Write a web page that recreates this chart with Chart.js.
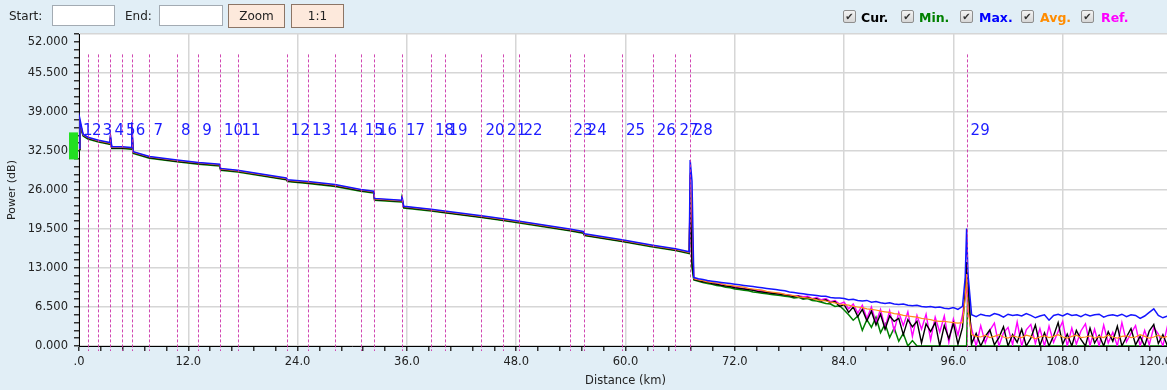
<!DOCTYPE html>
<html>
<head>
<meta charset="utf-8">
<script src="https://cdn.jsdelivr.net/npm/chart.js@4.4.1/dist/chart.umd.min.js"></script>
<style>
html, body { margin:0; padding:0; width:1167px; height:390px; overflow:hidden; background:#e1eef6; }
body { position:relative; font-family:"DejaVu Sans", sans-serif; color:#222; }
#toolbar { position:absolute; left:0; top:0; width:1167px; height:32px; z-index:2; font-size:12px; }
#toolbar .txt { position:absolute; top:9px; }
#toolbar .inp { position:absolute; top:5px; height:21px; background:#fff; border:1px solid #a3abb3; box-sizing:border-box; }
#toolbar .btn { position:absolute; top:4px; height:24px; background:#fde9dc; border:1px solid #8c7566; box-sizing:border-box; text-align:center; line-height:22px; }
#toolbar .cb { position:absolute; top:10px; width:13px; height:13px; box-sizing:border-box; border:1px solid #8e8e8e; border-radius:2px; background:linear-gradient(#f4f4f4,#d6d6d6); font-size:10px; line-height:11px; text-align:center; color:#333; }
#toolbar .lg { position:absolute; top:10px; font-weight:bold; font-size:12.5px; }
#wrap { position:absolute; left:0; top:0; width:1172px; height:390px; }
</style>
</head>
<body>
<div id="toolbar">
  <span class="txt" style="left:9px">Start:</span>
  <div class="inp" style="left:52px;width:63px"></div>
  <span class="txt" style="left:125px">End:</span>
  <div class="inp" style="left:159px;width:64px"></div>
  <div class="btn" style="left:228px;width:57px">Zoom</div>
  <div class="btn" style="left:291px;width:53px">1:1</div>

  <div class="cb" style="left:843px">&#10004;</div><span class="lg" style="left:861px;color:#000">Cur.</span>
  <div class="cb" style="left:901px">&#10004;</div><span class="lg" style="left:919px;color:#008000">Min.</span>
  <div class="cb" style="left:960px">&#10004;</div><span class="lg" style="left:979px;color:#0000ff">Max.</span>
  <div class="cb" style="left:1021px">&#10004;</div><span class="lg" style="left:1040px;color:#ff8c00">Avg.</span>
  <div class="cb" style="left:1081px">&#10004;</div><span class="lg" style="left:1101px;color:#ff00ff">Ref.</span>
</div>
<div id="wrap"><canvas id="otdr" width="1172" height="390"></canvas></div>

<script>
// distance samples (km) shared by all traces
var distKm = [
  0, 0.1, 0.45, 0.98, 2.14, 3.4, 3.45, 3.6, 4.73, 5.75,
  5.8, 5.95, 7.73, 10.76, 13.1, 15.45, 15.55, 17.41, 22.75, 22.9,
  25.15, 28.11, 30.93, 32.35, 32.45, 35.4, 35.45, 35.65, 38.65, 40.13,
  44.19, 46.56, 48.35, 53.86, 55.35, 55.5, 59.61, 63.0, 65.48, 67.0,
  67.1, 67.3,
  67.5, 68, 68.5, 69, 69.5, 70, 70.5, 71, 71.5, 72,
  72.5, 73, 73.5, 74, 74.5, 75, 75.5, 76, 76.5, 77,
  77.5, 78, 78.5, 79, 79.5, 80, 80.5, 81, 81.5, 82,
  82.5, 83, 83.5, 84, 84.5, 85, 85.5, 86, 86.5, 87,
  87.5, 88, 88.5, 89, 89.5, 90, 90.5, 91, 91.5, 92,
  92.5, 93, 93.5, 94, 94.5, 95, 95.5, 96, 96.5, 97,
  97.3, 97.45, 97.6, 98, 98.5, 99, 99.5, 100, 100.5, 101,
  101.5, 102, 102.5, 103, 103.5, 104, 104.5, 105, 105.5, 106,
  106.5, 107, 107.5, 108, 108.5, 109, 109.5, 110, 110.5, 111,
  111.5, 112, 112.5, 113, 113.5, 114, 114.5, 115, 115.5, 116,
  116.5, 117, 117.5, 118, 118.5, 119, 119.5, 120
];

var maxDb = [
  33.0, 37.8, 35.3, 34.8, 34.3, 33.9, 35.2, 33.2, 33.2, 33.1,
  37.3, 32.4, 31.6, 31.0, 30.6, 30.3, 29.6, 29.3, 28.0, 27.7,
  27.4, 26.9, 26.1, 25.8, 24.6, 24.3, 25.0, 23.3, 22.8, 22.5,
  21.7, 21.2, 20.8, 19.5, 19.1, 18.7, 17.7, 16.8, 16.2, 15.7,
  31.0, 27.5,
  11.4, 11.2, 11.1, 10.9, 10.8, 10.7, 10.6, 10.5, 10.4, 10.3,
  10.2, 10.1, 10.0, 9.9, 9.8, 9.7, 9.6, 9.5, 9.4, 9.3,
  9.2, 9.0, 8.9, 8.8, 8.7, 8.6, 8.5, 8.4, 8.3, 8.3,
  8.1, 8.0, 8.0, 7.9, 7.7, 7.8, 7.6, 7.5, 7.6, 7.3,
  7.4, 7.2, 7.1, 7.2, 7.0, 6.9, 7.0, 6.8, 6.7, 6.8,
  6.6, 6.5, 6.6, 6.4, 6.5, 6.3, 6.2, 6.4, 6.1, 6.6,
  11.5, 19.6, 12.0, 5.2, 4.9, 5.3, 5.1, 5.0, 5.4, 5.2,
  4.8, 5.3, 5.1, 5.2, 5.0, 5.4, 5.1, 4.7, 5.0, 5.2,
  4.3, 5.1, 5.3, 5.0, 5.4, 5.1, 5.2, 4.9, 5.3, 5.0,
  5.2, 5.3, 4.8, 5.1, 5.2, 5.0, 5.3, 4.9, 5.2, 5.1,
  4.6, 5.0, 5.6, 6.2, 5.1, 4.7, 5.0, 4.8
];

var avgDb = [
  32.9, 37.5, 35.2, 34.7, 34.2, 33.8, 34.9, 33.1, 33.1, 33.0,
  36.8, 32.3, 31.5, 30.9, 30.5, 30.2, 29.5, 29.2, 27.9, 27.6,
  27.3, 26.8, 26.0, 25.7, 24.5, 24.2, 24.8, 23.2, 22.7, 22.4,
  21.6, 21.1, 20.7, 19.4, 19.0, 18.6, 17.6, 16.7, 16.1, 15.6,
  28.8, 22.7,
  11.2, 11.0, 10.9, 10.7, 10.6, 10.5, 10.4, 10.2, 10.1, 10.0,
  9.9, 9.8, 9.6, 9.5, 9.4, 9.3, 9.1, 9.0, 8.9, 8.8,
  8.6, 8.5, 8.4, 8.2, 8.1, 8.0, 7.9, 7.7, 7.6, 7.5,
  7.3, 7.2, 7.0, 6.9, 6.8, 6.6, 6.5, 6.4, 6.2, 6.1,
  6.0, 5.8, 5.7, 5.6, 5.4, 5.3, 5.1, 5.0, 4.9, 4.8,
  4.6, 4.5, 4.4, 4.2, 4.1, 4.1, 4.0, 3.9, 3.8, 3.9,
  8.0, 12.0, 6.0, 1.9, 1.6, 1.5, 1.8, 1.4, 1.6, 1.9,
  1.5, 1.3, 1.7, 1.5, 1.4, 1.8, 1.6, 1.2, 1.5, 1.7,
  1.4, 1.6, 1.9, 1.5, 1.3, 1.6, 1.8, 1.4, 1.5, 1.7,
  1.3, 1.6, 1.4, 1.8, 1.5, 1.3, 1.6, 1.7, 1.4, 1.5,
  1.9, 1.6, 1.3, 1.5, 1.8, 1.4, 1.6, 1.5
];

var curDb = [
  32.8, 37.2, 35.1, 34.6, 34.1, 33.7, 34.6, 33.0, 33.0, 32.9,
  36.2, 32.2, 31.4, 30.8, 30.4, 30.1, 29.4, 29.1, 27.8, 27.5,
  27.2, 26.7, 25.9, 25.6, 24.4, 24.1, 24.7, 23.1, 22.6, 22.3,
  21.5, 21.0, 20.6, 19.3, 18.9, 18.5, 17.5, 16.6, 16.0, 15.5,
  26.0, 14.0,
  11.1, 10.9, 10.7, 10.6, 10.4, 10.3, 10.1, 10.0, 9.9, 9.7,
  9.6, 9.5, 9.4, 9.3, 9.1, 9.0, 8.9, 8.8, 8.7, 8.6,
  8.5, 8.4, 8.2, 8.3, 8.0, 8.1, 7.8, 7.9, 7.5, 7.7,
  7.2, 7.4, 6.6, 6.9, 5.6, 6.5, 4.9, 6.1, 4.2, 5.8,
  3.5, 5.3, 2.8, 5.0, 4.1, 4.6, 1.9, 4.4, 3.2, 4.1,
  0.5, 3.7, 2.4, 3.9, 0.0, 3.4, 1.2, 3.8, 0.3, 3.1,
  9.0, 14.0, 11.0, 0.4, 2.1, 0.0, 1.6, 2.7, 0.2, 1.4,
  3.2, 0.0, 1.9, 0.6, 2.8, 0.0, 1.3, 3.5, 0.1, 2.2,
  0.0, 1.7, 3.9, 0.3, 2.0, 0.0, 2.6, 1.1, 0.0, 3.0,
  0.5, 1.8, 0.0, 2.4, 0.8, 3.3, 0.0, 1.5, 2.9, 0.2,
  1.6, 0.0, 2.5, 3.6, 0.4, 1.9, 0.0, 2.2
];

var refDb = [
  32.9, 37.4, 35.2, 34.7, 34.2, 33.8, 34.8, 33.1, 33.1, 33.0,
  36.6, 32.3, 31.5, 30.9, 30.5, 30.2, 29.5, 29.2, 27.9, 27.6,
  27.3, 26.8, 26.0, 25.7, 24.5, 24.2, 24.8, 23.2, 22.7, 22.4,
  21.6, 21.1, 20.7, 19.4, 19.0, 18.6, 17.6, 16.7, 16.1, 15.6,
  28.5, 20.0,
  11.2, 11.0, 10.8, 10.7, 10.5, 10.4, 10.3, 10.1, 10.0, 9.9,
  9.7, 9.6, 9.5, 9.4, 9.3, 9.2, 9.0, 8.9, 8.8, 8.7,
  8.6, 8.5, 8.3, 8.4, 8.2, 8.3, 7.9, 8.1, 7.7, 7.9,
  7.4, 7.6, 7.0, 7.3, 6.2, 7.0, 5.5, 6.8, 4.6, 6.5,
  3.9, 6.1, 3.0, 5.9, 2.5, 5.6, 3.4, 5.7, 1.6, 5.1,
  2.8, 5.3, 1.0, 4.8, 2.3, 5.0, 0.6, 4.5, 1.8, 5.2,
  8.5, 10.0, 6.0, 2.9, 0.0, 3.4, 0.5, 2.6, 3.8, 0.0,
  2.2, 3.1, 0.2, 4.0, 0.0, 2.7, 3.6, 0.4, 2.9, 0.0,
  3.3, 0.6, 2.4, 4.1, 0.0, 3.0, 0.3, 2.5, 3.7, 0.1,
  2.8, 0.0, 3.5, 0.5, 2.3, 0.0, 3.9, 0.7, 2.1, 3.4,
  0.0, 2.6, 0.2, 3.1, 2.0, 0.0, 3.3, 0.6
];

var minDb = [
  32.7, 36.8, 35.0, 34.5, 34.0, 33.6, 34.2, 32.9, 32.9, 32.8,
  35.5, 32.1, 31.3, 30.7, 30.3, 30.0, 29.3, 29.0, 27.7, 27.4,
  27.1, 26.6, 25.8, 25.5, 24.3, 24.0, 24.4, 23.0, 22.5, 22.2,
  21.4, 20.9, 20.5, 19.2, 18.8, 18.4, 17.4, 16.5, 15.9, 15.4,
  24.0, 13.0,
  11.0, 10.8, 10.6, 10.4, 10.3, 10.1, 10.0, 9.8, 9.7, 9.5,
  9.4, 9.3, 9.2, 9.0, 8.9, 8.8, 8.7, 8.6, 8.5, 8.4,
  8.3, 8.2, 8.0, 8.1, 7.8, 7.9, 7.6, 7.5, 7.3, 7.1,
  7.0, 6.6, 6.7, 6.0, 5.2, 4.3, 5.0, 2.6, 4.4, 3.1,
  4.8, 2.2, 3.7, 1.4, 3.0, 0.8, 2.1, 0.0, 0.9, 0.0,
  0, 0, 0, 0, 0, 0, 0, 0, 0, 0,
  0, 0, 10.9, 0, 0, 0, 0, 0, 0, 0,
  0, 0, 0, 0, 0, 0, 0, 0, 0, 0,
  0, 0, 0, 0, 0, 0, 0, 0, 0, 0,
  0, 0, 0, 0, 0, 0, 0, 0, 0, 0,
  0, 0, 0, 0, 0, 0, 0, 0
];

// event markers
var eventKm = [0, 0.98, 2.14, 3.45, 4.73, 5.8, 7.73, 10.76, 13.1, 15.47,
  17.41, 22.82, 25.15, 28.11, 30.93, 32.38, 35.45, 38.65, 40.13, 44.19,
  46.56, 48.35, 53.86, 55.4, 59.61, 63.0, 65.48, 67.06, 97.45];
var eventLabels = ['1','2','3','4','5','6','7','8','9','10',
  '11','12','13','14','15','16','17','18','19','20',
  '21','22','23','24','25','26','27','28','29'];
var eventTopDb = 48.6;
var eventLabelDb = 35.8;
var launchTopDb = 35.6, launchBottomDb = 31.1;
var xMaxKm = 120, yMaxDb = 52;

var FONT = '"DejaVu Sans", sans-serif';

function near(v, step) {
  var r = v / step;
  return Math.abs(r - Math.round(r)) < 1e-6;
}

function points(arr) {
  return arr.map(function(v, i) { return {x: distKm[i], y: v}; });
}

var otdrPlugin = {
  id: 'otdrExtras',
  beforeDraw: function(chart) {
    var a = chart.chartArea;
    chart.ctx.save();
    chart.ctx.fillStyle = '#ffffff';
    chart.ctx.fillRect(a.left, a.top, a.right - a.left, a.bottom - a.top);
    chart.ctx.restore();
  },
  afterDatasetsDraw: function(chart) {
    var ctx = chart.ctx, area = chart.chartArea;
    var x = chart.scales.x, y = chart.scales.y;
    ctx.save();
    // launch marker
    ctx.fillStyle = '#22e022';
    var t = y.getPixelForValue(launchTopDb), b = y.getPixelForValue(launchBottomDb);
    ctx.fillRect(area.left - 10, t, 9, b - t);
    // event lines
    ctx.strokeStyle = 'rgba(204,51,170,0.9)';
    ctx.lineWidth = 1;
    ctx.setLineDash([3, 2]);
    eventKm.forEach(function(km) {
      var px = Math.round(x.getPixelForValue(km)) + 0.5;
      if (px <= area.left + 1) return;
      ctx.beginPath();
      ctx.moveTo(px, y.getPixelForValue(eventTopDb));
      ctx.lineTo(px, area.bottom + 5);
      ctx.stroke();
    });
    ctx.setLineDash([]);
    // event numbers
    ctx.fillStyle = '#1c1cff';
    ctx.font = '15px ' + FONT;
    ctx.textBaseline = 'middle';
    ctx.textAlign = 'left';
    eventKm.forEach(function(km, i) {
      ctx.fillText(eventLabels[i], x.getPixelForValue(km) + 4, y.getPixelForValue(eventLabelDb));
    });
    // end labels kept inside the axes, like the original widget
    ctx.fillStyle = '#222';
    ctx.font = '11.5px ' + FONT;
    ctx.textAlign = 'right';
    ctx.fillText(yMaxDb.toFixed(3), area.left - 11, y.getPixelForValue(yMaxDb) + 8);
    ctx.textBaseline = 'top';
    ctx.fillText(xMaxKm.toFixed(1), x.getPixelForValue(xMaxKm), area.bottom + 10);
    ctx.restore();
  }
};

var ctx = document.getElementById('otdr').getContext('2d');
var chart = new Chart(ctx, {
  type: 'line',
  data: {
    datasets: [
      {label: 'Max.', data: points(maxDb), borderColor: '#1414ff', borderWidth: 1.5},
      {label: 'Avg.', data: points(avgDb), borderColor: '#ff8c1a'},
      {label: 'Cur.', data: points(curDb), borderColor: '#000000', borderWidth: 1.4},
      {label: 'Ref.', data: points(refDb), borderColor: '#ff00ff', borderWidth: 1.4},
      {label: 'Min.', data: points(minDb), borderColor: '#008000', borderWidth: 1.5}
    ]
  },
  options: {
    responsive: false,
    animation: false,
    layout: {padding: {top: 34, left: 0, right: 0, bottom: 0}},
    elements: {
      point: {radius: 0},
      line: {borderWidth: 1.2, tension: 0, fill: false}
    },
    plugins: {legend: {display: false}, tooltip: {enabled: false}},
    scales: {
      x: {
        type: 'linear', min: 0, max: xMaxKm,
        ticks: {
          stepSize: 2.4, autoSkip: false, maxRotation: 0, padding: 4,
          color: '#222', font: {family: FONT, size: 11.5},
          callback: function(v) {
            if (!near(v, 12) || v >= xMaxKm) return '';
            return v === 0 ? '.0' : v.toFixed(1);
          }
        },
        grid: {
          color: function(c) { return c.tick && near(c.tick.value, 12) ? '#d6d6d6' : 'rgba(0,0,0,0)'; },
          lineWidth: 1.5, tickColor: '#333', tickLength: 5
        },
        border: {color: '#000', width: 1},
        title: {display: true, text: 'Distance (km)', color: '#222', font: {family: FONT, size: 11.5}, padding: {top: 0, bottom: 2}},
        afterFit: function(s) { s.height = 44; s.paddingLeft = 0; s.paddingRight = 0; }
      },
      y: {
        min: 0, max: yMaxDb,
        ticks: {
          stepSize: 1.3, autoSkip: false, padding: 6,
          color: '#222', font: {family: FONT, size: 11.5},
          callback: function(v) { return (near(v, 6.5) && v < yMaxDb - 1) ? v.toFixed(3) : ''; }
        },
        grid: {
          color: function(c) { return c.tick && near(c.tick.value, 6.5) ? '#d6d6d6' : 'rgba(0,0,0,0)'; },
          lineWidth: 1.5, tickColor: '#333', tickLength: 5
        },
        border: {color: '#000', width: 1},
        title: {display: true, text: 'Power (dB)', color: '#222', font: {family: FONT, size: 11}, padding: {top: 6, bottom: 0}},
        afterFit: function(s) { s.width = 79; }
      }
    }
  },
  plugins: [otdrPlugin]
});
</script>
</body>
</html>
